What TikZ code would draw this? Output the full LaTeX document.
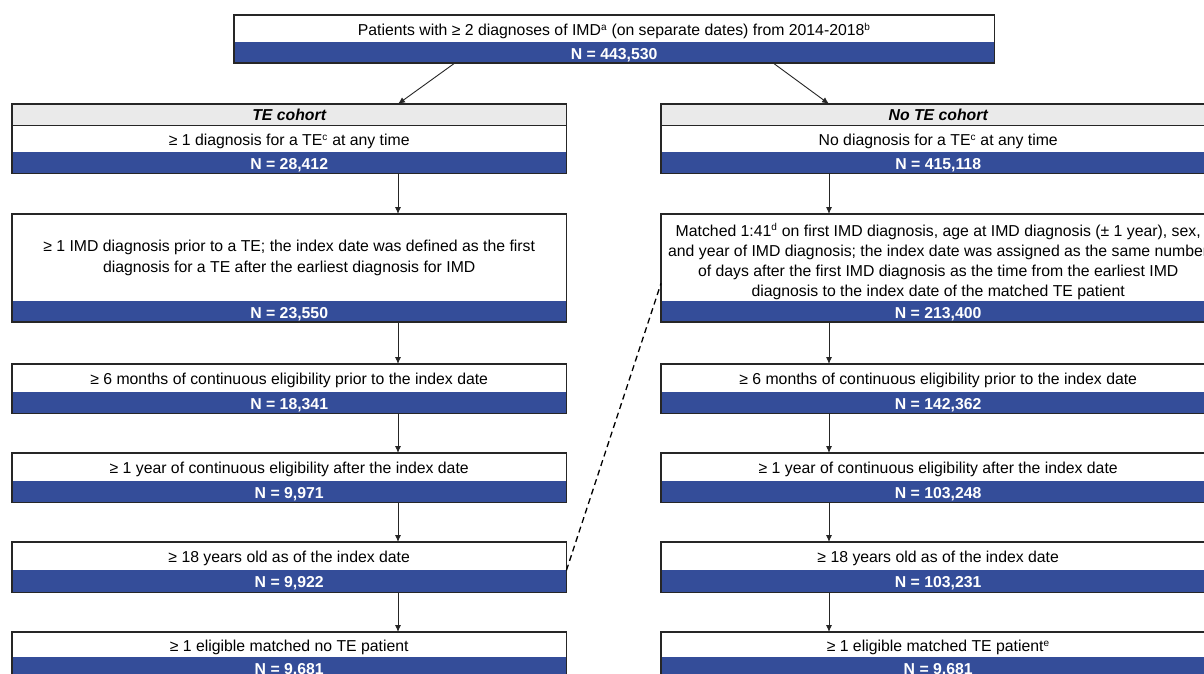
\documentclass[tikz,border=0pt]{standalone}
\usepackage{fontspec}
\setmainfont{Liberation Sans}
\usetikzlibrary{calc,arrows.meta}
\definecolor{barblue}{RGB}{52,77,153}
\definecolor{headgray}{RGB}{234,234,234}
\newcommand{\fnmark}[1]{\textsuperscript{\fontsize{10}{10}\selectfont #1}}

\begin{document}
\begin{tikzpicture}[x=1pt,y=-1pt,
  txt/.style={fill=white,inner sep=0pt,anchor=north west,align=center,font=\fontsize{15.8}{20.5}\selectfont},
  oneline/.style={txt,text height=17pt,text depth=3.5pt},
  num/.style={fill=barblue,text=white,inner sep=0pt,anchor=north west,text height=17pt,text depth=3.5pt,font=\fontsize{15.8}{17}\selectfont\bfseries},
  head/.style={fill=headgray,inner sep=0pt,anchor=north west,font=\fontsize{15.8}{17}\selectfont\bfseries\itshape},
  frame/.style={draw=black!85,line width=1.6pt},
  arr/.style={-{Latex[length=7pt,width=6pt]},black!85,line width=0.9pt}]
  \clip (0,0) rectangle (1204,674);
  \fill[white] (0,0) rectangle (1204,674);
  % all patients
  \node[oneline,minimum width=760pt,minimum height=27pt] (all) at (234,15) {Patients with ≥ 2 diagnoses of IMD\fnmark{a} (on separate dates) from 2014-2018\fnmark{b}};
  \node[num,minimum width=760pt,minimum height=20pt] (alln) at (234,42) {N = 443,530};
  \draw[frame] (all.north west) rectangle (alln.south east);

  % TE cohort
  \node[head,minimum width=554pt,minimum height=21pt] (tehead) at (12,104) {TE cohort};
  \node[oneline,minimum width=554pt,minimum height=27pt] (te1) at (12,125) {≥ 1 diagnosis for a TE\fnmark{c} at any time};
  \node[num,minimum width=554pt,minimum height=21pt] (te1n) at (12,152) {N = 28,412};
  \draw[frame] (tehead.north west) rectangle (te1n.south east);
  \draw[black!85] (tehead.south west) -- (tehead.south east);
  \node[txt,minimum width=554pt,minimum height=87pt] (te2) at (12,214) {≥ 1 IMD diagnosis prior to a TE; the index date was defined as the first\\diagnosis for a TE after the earliest diagnosis for IMD};
  \node[num,minimum width=554pt,minimum height=20pt] (te2n) at (12,301) {N = 23,550};
  \draw[frame] (te2.north west) rectangle (te2n.south east);
  \node[oneline,minimum width=554pt,minimum height=28pt] (te3) at (12,364) {≥ 6 months of continuous eligibility prior to the index date};
  \node[num,minimum width=554pt,minimum height=21pt] (te3n) at (12,392) {N = 18,341};
  \draw[frame] (te3.north west) rectangle (te3n.south east);
  \node[oneline,minimum width=554pt,minimum height=28pt] (te4) at (12,453) {≥ 1 year of continuous eligibility after the index date};
  \node[num,minimum width=554pt,minimum height=21pt] (te4n) at (12,481) {N = 9,971};
  \draw[frame] (te4.north west) rectangle (te4n.south east);
  \node[oneline,minimum width=554pt,minimum height=28pt] (te5) at (12,542) {≥ 18 years old as of the index date};
  \node[num,minimum width=554pt,minimum height=22pt] (te5n) at (12,570) {N = 9,922};
  \draw[frame] (te5.north west) rectangle (te5n.south east);
  \node[oneline,minimum width=554pt,minimum height=25pt] (te6) at (12,632) {≥ 1 eligible matched no TE patient};
  \node[num,minimum width=554pt,minimum height=18pt] (te6n) at (12,657) {N = 9,681};
  \draw[frame] (te6.north west) rectangle (te6n.south east);

  % No TE cohort
  \node[head,minimum width=554pt,minimum height=21pt] (nohead) at (661,104) {No TE cohort};
  \node[oneline,minimum width=554pt,minimum height=27pt] (no1) at (661,125) {No diagnosis for a TE\fnmark{c} at any time};
  \node[num,minimum width=554pt,minimum height=21pt] (no1n) at (661,152) {N = 415,118};
  \draw[frame] (nohead.north west) rectangle (no1n.south east);
  \draw[black!85] (nohead.south west) -- (nohead.south east);
  \node[txt,minimum width=554pt,minimum height=87pt,font=\fontsize{15.8}{20}\selectfont] (no2) at (661,214) {\rule{0pt}{20pt}Matched 1:41\fnmark{d} on first IMD diagnosis, age at IMD diagnosis (± 1 year), sex,\\and year of IMD diagnosis; the index date was assigned as the same number\\of days after the first IMD diagnosis as the time from the earliest IMD\\diagnosis to the index date of the matched TE patient};
  \node[num,minimum width=554pt,minimum height=20pt] (no2n) at (661,301) {N = 213,400};
  \draw[frame] (no2.north west) rectangle (no2n.south east);
  \node[oneline,minimum width=554pt,minimum height=28pt] (no3) at (661,364) {≥ 6 months of continuous eligibility prior to the index date};
  \node[num,minimum width=554pt,minimum height=21pt] (no3n) at (661,392) {N = 142,362};
  \draw[frame] (no3.north west) rectangle (no3n.south east);
  \node[oneline,minimum width=554pt,minimum height=28pt] (no4) at (661,453) {≥ 1 year of continuous eligibility after the index date};
  \node[num,minimum width=554pt,minimum height=21pt] (no4n) at (661,481) {N = 103,248};
  \draw[frame] (no4.north west) rectangle (no4n.south east);
  \node[oneline,minimum width=554pt,minimum height=28pt] (no5) at (661,542) {≥ 18 years old as of the index date};
  \node[num,minimum width=554pt,minimum height=22pt] (no5n) at (661,570) {N = 103,231};
  \draw[frame] (no5.north west) rectangle (no5n.south east);
  \node[oneline,minimum width=554pt,minimum height=25pt] (no6) at (661,632) {≥ 1 eligible matched TE patient\fnmark{e}};
  \node[num,minimum width=554pt,minimum height=18pt] (no6n) at (661,657) {N = 9,681};
  \draw[frame] (no6.north west) rectangle (no6n.south east);

  % arrows
  \coordinate (ls) at (455,0);
  \coordinate (rs) at (773,0);
  \coordinate (lx) at (398,0);
  \coordinate (rx) at (829,0);
  \draw[arr] (alln.south -| ls) -- (tehead.north -| lx);
  \draw[arr] (alln.south -| rs) -- (nohead.north -| rx);
  \draw[arr] (te1n.south -| lx) -- (te2.north -| lx);
  \draw[arr] (te2n.south -| lx) -- (te3.north -| lx);
  \draw[arr] (te3n.south -| lx) -- (te4.north -| lx);
  \draw[arr] (te4n.south -| lx) -- (te5.north -| lx);
  \draw[arr] (te5n.south -| lx) -- (te6.north -| lx);
  \draw[arr] (no1n.south -| rx) -- (no2.north -| rx);
  \draw[arr] (no2n.south -| rx) -- (no3.north -| rx);
  \draw[arr] (no3n.south -| rx) -- (no4.north -| rx);
  \draw[arr] (no4n.south -| rx) -- (no5.north -| rx);
  \draw[arr] (no5n.south -| rx) -- (no6.north -| rx);
  \draw[line width=1.3pt,dash pattern=on 6pt off 4pt] (te5.south east) -- ($(no2.south west)+(0,-18)$);
\end{tikzpicture}
\end{document}
